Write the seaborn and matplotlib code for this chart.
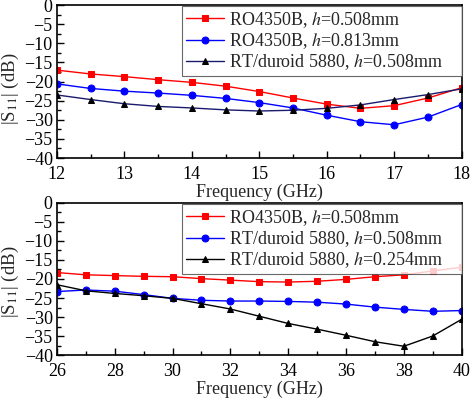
import matplotlib
matplotlib.use('Agg')
from matplotlib import pyplot as plt
from matplotlib.ticker import MultipleLocator
import seaborn as sns
import pandas as pd
import numpy as np

# band 1 (12-18 GHz)
freq_a = [12, 12.5, 13, 13.5, 14, 14.5, 15, 15.5, 16, 16.5, 17, 17.5, 18]
ro_508_a = [-17.0, -18.0, -18.7, -19.5, -20.2, -21.2, -22.6, -24.3, -25.9, -27.0, -26.3, -24.3, -21.6]
ro_813_a = [-20.6, -21.8, -22.5, -23.0, -23.6, -24.4, -25.5, -26.9, -28.8, -30.5, -31.3, -29.3, -26.0]
rt_508_a = [-23.5, -24.7, -25.8, -26.5, -26.9, -27.4, -27.7, -27.5, -27.0, -26.1, -24.7, -23.4, -21.9]

# band 2 (26-40 GHz)
freq_b = [26, 27, 28, 29, 30, 31, 32, 33, 34, 35, 36, 37, 38, 39, 40]
ro_508_b = [-18.3, -18.9, -19.1, -19.3, -19.4, -19.9, -20.3, -20.7, -20.8, -20.6, -20.1, -19.4, -18.9, -17.9, -16.9]
rt_508_b = [-23.3, -22.9, -23.2, -24.1, -25.1, -25.6, -25.8, -25.8, -25.9, -26.1, -26.6, -27.4, -28.0, -28.5, -28.3]
rt_254_b = [-21.5, -23.1, -23.8, -24.4, -25.1, -26.5, -27.9, -29.8, -31.7, -33.2, -34.8, -36.5, -37.7, -35.0, -30.6]

labels_a = ['RO4350B, $h$=0.508mm', 'RO4350B, $h$=0.813mm', 'RT/duroid 5880, $h$=0.508mm']
labels_b = ['RO4350B, $h$=0.508mm', 'RT/duroid 5880, $h$=0.508mm', 'RT/duroid 5880, $h$=0.254mm']

sns.set_theme(style='ticks')
plt.rcParams['font.family'] = ['Liberation Serif', 'DejaVu Serif']
plt.rcParams['mathtext.fontset'] = 'stix'


def make_df(freq, series, labels):
    frames = []
    for vals, lab in zip(series, labels):
        frames.append(pd.DataFrame({'f': freq, 's11': vals, 'name': lab}))
    return pd.concat(frames, ignore_index=True)


def draw(ax, df, labels, colors, markers, line_colors, xmaj, xmin, xlim, ylab_y):
    for lab, c, m, lc in zip(labels, colors, markers, line_colors):
        sub = df[df['name'] == lab]
        sns.lineplot(data=sub, x='f', y='s11', ax=ax, color=lc, marker=m,
                     markersize=5, markerfacecolor=c, markeredgecolor=c,
                     linewidth=1.0, label=lab)
    ax.set_xlim(*xlim)
    ax.set_ylim(-40, 0)
    ax.xaxis.set_major_locator(MultipleLocator(xmaj))
    ax.xaxis.set_minor_locator(MultipleLocator(xmin))
    ax.yaxis.set_major_locator(MultipleLocator(5))
    ax.yaxis.set_minor_locator(MultipleLocator(2.5))
    ax.tick_params(which='both', direction='in', top=False, right=False,
                   labelsize=13, colors='black')
    ax.tick_params(axis='x', pad=6)
    ax.tick_params(axis='y', pad=3)
    ax.tick_params(which='major', length=5, width=1)
    ax.tick_params(which='minor', length=3, width=1)
    for s in ax.spines.values():
        s.set_linewidth(1.2)
        s.set_color('black')
    ax.set_xlabel('Frequency (GHz)', fontsize=13, labelpad=0)
    ax.set_ylabel('|S$_{11}$| (dB)', fontsize=13.5)
    ax.yaxis.set_label_coords(-0.088, ylab_y)
    leg = ax.legend(loc='upper left', bbox_to_anchor=(0.309, 0.0, 0.691, 0.995),
                    mode='expand', fontsize=13, frameon=True, fancybox=False,
                    borderaxespad=0, handlelength=2.1, handletextpad=0.26,
                    labelspacing=0.08, borderpad=0.22)
    leg.get_frame().set_edgecolor('#444444')
    leg.get_frame().set_linewidth(0.8)


fig = plt.figure(figsize=(4.74, 3.98), dpi=100)
ax1 = fig.add_axes([0.120, 0.603, 0.854, 0.384])
ax2 = fig.add_axes([0.120, 0.108, 0.854, 0.382])

df_a = make_df(freq_a, [ro_508_a, ro_813_a, rt_508_a], labels_a)
df_b = make_df(freq_b, [ro_508_b, rt_508_b, rt_254_b], labels_b)

draw(ax1, df_a, labels_a, ['#ff0000', '#0000ff', '#000000'], ['s', 'o', '^'],
     ['#ff0000', '#0000ff', '#1a1a6e'], 1, 0.5, (12, 18), 0.45)
draw(ax2, df_b, labels_b, ['#ff0000', '#0000ff', '#000000'], ['s', 'o', '^'],
     ['#ff0000', '#0000ff', '#000000'], 2, 1, (26, 40), 0.48)

fig.savefig('out.png', dpi=100)
